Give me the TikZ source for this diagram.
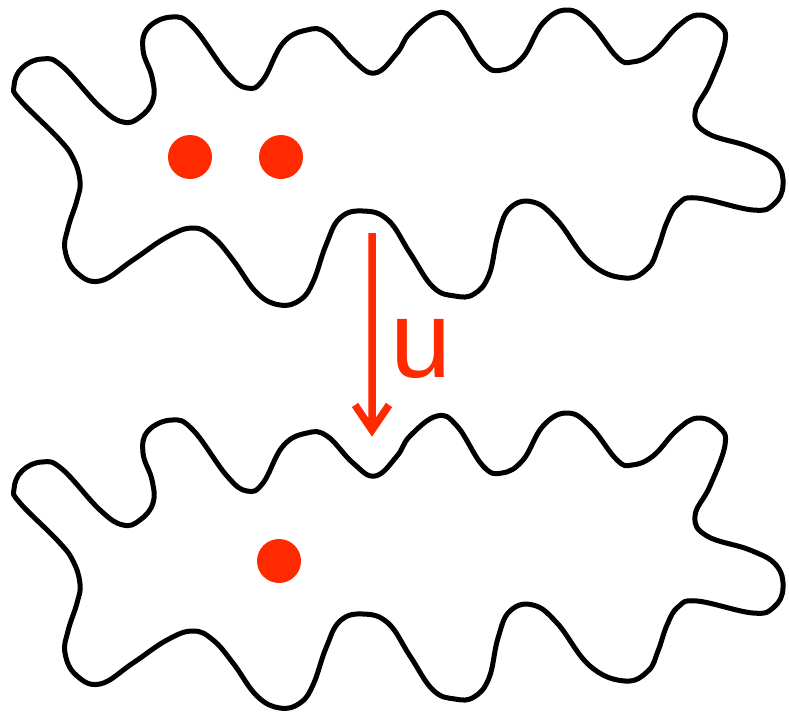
\documentclass[tikz,border=0pt]{standalone}
\usepackage{fontspec}
\newfontfamily\labelfont{Liberation Sans}
\usetikzlibrary{calc}
\definecolor{dotred}{RGB}{255,42,0}
\tikzset{
  blob/.style={draw=black, line width=5pt, line join=round},
  dot/.style={circle, fill=dotred, minimum size=44pt, inner sep=0pt},
  uarrow/.style={draw=dotred, line width=7.5pt, line join=miter},
  ulabel/.style={text=dotred, inner sep=0pt, font=\labelfont\fontsize{110}{110}\selectfont}
}
\newcommand\drawblob{%
  \draw[blob] plot[smooth cycle, tension=0.7] coordinates {
  (14,86) (22,68) (42,59) (62,66) (100,107) (123,122) (140,117) (153,100) (152,77) (143,50) (148,28) (172,17) (193,27) (227,73) (247,88) (263,80) (283,43) (307,30) (327,33) (353,60) (375,73) (397,53) (410,33) (437,13) (457,23) (483,63) (502,70) (523,57) (543,23) (567,10) (590,23) (617,57) (632,62) (653,53) (677,27) (698,15) (719,24) (725,42) (710,83) (695,113) (707,133) (750,147) (776,162) (783,185) (774,204) (753,210) (697,198) (678,204) (667,222) (658,248) (648,268) (625,278) (590,263) (557,220) (533,202) (510,208) (498,235) (489,275) (474,294) (455,296) (433,287) (410,253) (388,220) (363,211) (340,218) (326,245) (313,282) (300,300) (280,305) (257,293) (233,260) (213,237) (193,228) (167,237) (133,260) (100,281) (76,272) (65,250) (68,228) (77,200) (80,181) (73,158) (58,138) (20,100)};}
\begin{document}
\begin{tikzpicture}[x=1pt,y=-1pt]
\useasboundingbox (0,0) rectangle (789,716);
% upper blob
\drawblob
% lower blob
\begin{scope}[shift={(0,403)}]
\drawblob
\end{scope}
% dots
\node[dot] (d1) at (190,157) {};
\node[dot] (d2) at (281,157) {};
\node[dot] (d3) at (279,561) {};
% arrow
\coordinate (utail) at (372,233);
\coordinate (uhead) at (372,430);
\draw[uarrow] (utail) -- (uhead)
  ($(uhead)+(-17,-25)$) -- (uhead) -- ($(uhead)+(17,-25)$);
\node[ulabel] (u) at (421,349) {u};
\end{tikzpicture}
\end{document}
